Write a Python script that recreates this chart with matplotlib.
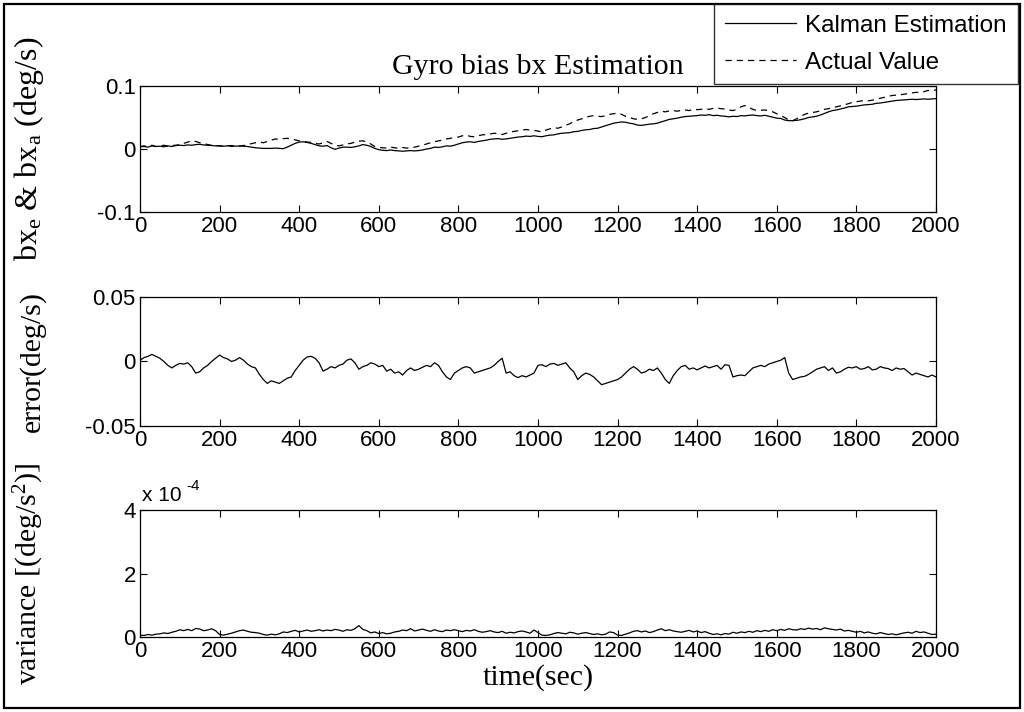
import numpy as np
import matplotlib
matplotlib.use("Agg")
import matplotlib.pyplot as plt
from matplotlib.patches import Rectangle
from matplotlib.ticker import FuncFormatter

plt.rcParams['font.family'] = ['Liberation Sans', 'DejaVu Sans']
plt.rcParams['axes.unicode_minus'] = False
plt.rcParams['mathtext.fontset'] = 'custom'
plt.rcParams['mathtext.rm'] = 'Liberation Serif'
plt.rcParams['mathtext.it'] = 'Liberation Serif:italic'
plt.rcParams['mathtext.sf'] = 'Liberation Sans'

# time axis, one sample every 10 s
t = np.arange(0, 2001, 10)

# Kalman estimate of gyro bias bx (1e-3 deg/s)
bx_est = np.array([
    3.5, 4, 3, 5, 4, 4.5, 3.5, 5, 4, 5.5,
    6, 5.5, 6.5, 6, 7, 7.5, 6.5, 6, 5.5, 5,
    5, 4.5, 5, 5.5, 4.5, 5, 4.5, 4, 3, 2,
    1.5, 1, 1, 1, 1.5, 1, 0.5, 3, 6, 9,
    11, 11.5, 10.5, 9, 7, 5, 4.5, 5.5, 2, -0.5,
    1.5, 3, 3, 2.5, 3.5, 5, 7, 6, 4, 1,
    -1, -2, -2.5, -1.5, -2.5, -3, -3.5, -3, -2.5, -3,
    -2.5, -1.5, 0, 1, 3, 2.5, 3.5, 5, 4.5, 6,
    8, 10, 11, 11.5, 10.5, 12, 13, 14, 15.5, 16,
    16.5, 15.5, 16, 17, 18, 19, 19.5, 20.5, 20, 21,
    20, 19.5, 21, 22, 22.5, 24, 25, 25.5, 26, 27.5,
    28, 29.5, 30.5, 31, 32.5, 33, 35, 37, 39, 41,
    42, 43, 42.5, 41, 40, 38, 37.5, 38.5, 39.5, 40,
    41, 43, 45, 47, 48, 49, 50.5, 51.5, 52, 52.5,
    53, 54, 53.5, 54.5, 53, 53.5, 52.5, 52, 51, 52,
    51.5, 53, 52.5, 53.5, 54, 53, 52.5, 53.5, 52, 50.5,
    49, 48.5, 46, 45, 45, 45.5, 46.5, 48, 50, 51,
    52, 54, 56.5, 59, 61, 62, 63.5, 65, 67, 67.5,
    68, 69, 70, 70.5, 71, 72.5, 73, 74, 75, 76,
    77, 77.5, 78, 78.5, 79, 78.5, 79, 79.5, 79, 79.5,
    80,
]) * 1e-3

# actual gyro bias bx (1e-3 deg/s)
bx_act = np.array([
    4, 5, 3.5, 6, 4, 5, 6, 4.5, 5.5, 6,
    7, 9, 11, 13, 12, 10, 9, 7, 6, 5.5,
    5, 4.5, 5.5, 4, 5, 4.5, 5.5, 7, 8.5, 10,
    11, 10, 12, 14, 16, 15.5, 16.5, 17, 16, 14.5,
    13, 12.5, 11, 10.5, 9, 8, 10, 12, 9, 6,
    5, 6.5, 8, 9, 11, 12.5, 13, 11, 8, 4,
    2.5, 2, 1.5, 3, 2, 1, 2.5, 1.5, 2, 3,
    4.5, 6, 8, 10, 11.5, 13, 14, 16, 17, 18,
    19, 21, 22, 20, 19.5, 21, 22.5, 23, 24, 25,
    24.5, 23, 25, 27, 28, 29, 30, 31, 30, 29.5,
    28.5, 27, 30, 32, 34, 33, 35, 38, 40, 44,
    46, 48, 50, 52, 53, 52, 51.5, 53, 55, 56,
    57, 55, 52, 50, 48, 47, 48, 50, 53, 56,
    58, 60, 59, 60.5, 61, 60, 61.5, 62, 61, 63,
    62.5, 63, 64, 63, 64.5, 65, 64, 63.5, 62, 61,
    63, 67, 69, 66, 63, 61, 61.5, 62, 60.5, 59,
    56, 53, 50, 46, 45, 48, 52, 55, 57, 58,
    59, 61, 63, 64, 65.5, 67, 68.5, 70, 72, 74,
    75, 76, 77, 76.5, 77.5, 79, 80.5, 82, 83.5, 85,
    85.5, 86, 87, 88, 89, 90, 89.5, 91, 93, 92,
    94,
]) * 1e-3

# estimation error (1e-3 deg/s)
err = np.array([
    1, 3, 4, 5.5, 4, 2.5, 0, -3, -5, -3,
    -1.5, -2, -1, -4, -9, -8, -5, -3, 0, 2.5,
    5, 3, 2, 0, 1, 3, 1, -2, -4, -5,
    -10, -14, -17, -15, -16, -17, -15, -13, -12, -7,
    -3, 1, 3.5, 4, 2.5, -1, -7.5, -6, -4, -5,
    -3, -2, 1, 2, -1, -6, -4, -3, -1, -2,
    -4, -3, -7.5, -6, -9, -8, -10.5, -7, -5, -7,
    -6, -4.5, -3, -4, -1, -3, -8, -12, -14, -9,
    -7, -5, -4, -5, -9, -8, -7, -6, -5, -3,
    0, 2.5, -9, -8, -11, -12.5, -11, -12, -10.5, -9,
    -3, -2.5, -4, -2, -1.5, -3, -2, -1, -5, -8,
    -14, -11, -9, -10, -12, -15, -18, -17, -16, -15,
    -14, -12, -9, -6, -4, -6, -9, -8, -6, -7,
    -5, -9, -14, -17, -11, -7, -4, -3, -6, -5,
    -6.5, -5, -3.5, -5, -4, -3, -6, -2.5, -3, -12,
    -11, -10.5, -11, -8, -5, -4, -3, -4, -2, -1,
    0, 1, 3, -9, -14, -13, -12, -11.5, -10, -8,
    -6, -5, -4, -7, -5, -9, -8, -6, -4.5, -5,
    -4, -6, -5.5, -4, -6.5, -6, -4, -5, -5.5, -7,
    -5, -6, -5.5, -8, -10.5, -9, -10, -11, -12, -10.5,
    -12,
]) * 1e-3

# error variance (1e-5 (deg/s)^2)
var = np.array([
    0.6, 0.5, 0.8, 0.6, 0.9, 1.0, 1.3, 1.1, 1.5, 1.8,
    2.3, 2.0, 2.4, 2.0, 2.7, 2.5, 2.0, 2.2, 2.6, 2.0,
    0.8, 0.6, 0.9, 1.2, 1.6, 2.0, 2.2, 1.8, 1.5, 1.4,
    1.2, 0.8, 0.6, 0.9, 0.7, 1.0, 1.6, 1.4, 1.8, 2.1,
    1.6, 1.9, 2.2, 1.8, 2.0, 2.3, 1.9, 2.2, 2.0, 2.4,
    2.2, 1.8, 2.3, 2.1, 2.6, 3.6, 2.4, 2.0, 1.3, 1.6,
    1.1, 1.4, 1.0, 1.2, 1.6, 1.8, 2.2, 2.0, 2.6, 1.9,
    2.2, 2.5, 2.1, 1.8, 2.3, 1.9, 1.7, 2.2, 2.0, 2.3,
    2.0, 1.7, 2.1, 1.9, 2.3, 1.8, 1.5, 1.7, 2.0, 1.6,
    1.4, 1.8, 1.2, 1.5, 1.3, 1.7, 1.9, 1.6, 1.2, 2.2,
    1.4, 0.6, 0.5, 0.7, 1.1, 1.4, 1.2, 1.0, 1.5, 1.3,
    0.9, 1.2, 1.4, 1.1, 0.8, 1.0, 0.7, 0.9, 1.6, 1.4,
    0.6, 0.5, 0.9, 1.3, 1.8, 2.0, 1.6, 1.9, 1.4, 1.7,
    2.2, 2.6, 2.0, 2.3, 1.9, 1.7, 1.5, 1.8, 2.1, 1.6,
    1.9, 1.4, 1.7, 1.2, 0.8, 1.0, 0.7, 1.1, 0.9, 1.5,
    1.2, 1.6, 1.4, 1.8, 1.5, 2.0, 1.7, 2.1, 1.8, 2.3,
    2.0, 2.4, 2.1, 2.6, 2.3, 2.2, 2.6, 2.4, 2.8, 2.5,
    2.7, 2.3, 2.9, 2.6, 2.4, 2.2, 2.5, 1.9, 2.1, 1.8,
    1.5, 1.8, 1.3, 1.6, 1.2, 1.0, 1.4, 1.1, 0.8, 1.0,
    0.7, 1.0, 1.3, 1.5, 1.2, 1.8, 1.4, 1.6, 1.2, 0.8,
    0.9,
]) * 1e-5

xticks = [0, 200, 400, 600, 800, 1000, 1200, 1400, 1600, 1800, 2000]
serif = 'Liberation Serif'
tick_fs = 16
label_fs = 21.5

fig = plt.figure(figsize=(10.24, 7.12), dpi=100)
ax1 = fig.add_axes([0.1367, 0.7022, 0.7773, 0.1770])
ax2 = fig.add_axes([0.1367, 0.4017, 0.7773, 0.1812])
ax3 = fig.add_axes([0.1367, 0.1053, 0.7773, 0.1784])


def style(ax, yticks):
    ax.set_xlim(0, 2000)
    ax.set_ylim(yticks[0], yticks[-1])
    ax.set_xticks(xticks)
    ax.set_yticks(yticks)
    ax.tick_params(direction='in', length=5, width=0.8, top=True, right=True,
                   labelsize=tick_fs, pad=3)
    for s in ax.spines.values():
        s.set_linewidth(0.9)


# bias estimate vs actual
l1, = ax1.plot(t, bx_est, color='black', lw=0.9, label='Kalman Estimation')
l2, = ax1.plot(t, bx_act, color='black', lw=0.9, ls=(0, (5, 4)), label='Actual Value')
style(ax1, [-0.1, 0, 0.1])
ax1.yaxis.set_major_formatter(FuncFormatter(lambda v, p: '%g' % v))
ax1.set_title('Gyro bias bx Estimation', fontfamily=serif, fontsize=label_fs, pad=9)
ax1.set_ylabel(r'bx$_\mathrm{e}$ & bx$_\mathrm{a}$ (deg/s)', fontfamily=serif, fontsize=23)

# error
ax2.plot(t, err, color='black', lw=0.9)
style(ax2, [-0.05, 0, 0.05])
ax2.yaxis.set_major_formatter(FuncFormatter(lambda v, p: '%g' % v))
ax2.set_ylabel('error(deg/s)', fontfamily=serif, fontsize=label_fs)

# variance, labelled in units of 1e-4
ax3.plot(t, var, color='black', lw=0.9)
style(ax3, [0, 2e-4, 4e-4])
ax3.yaxis.set_major_formatter(FuncFormatter(lambda v, p: '%g' % (v / 1e-4)))
ax3.set_ylabel(r'variance [(deg/s$^\mathrm{2}$)]', fontfamily=serif, fontsize=label_fs)
ax3.set_xlabel('time(sec)', fontfamily=serif, fontsize=label_fs, labelpad=1)
ax3.text(0.003, 1.04, 'x 10', transform=ax3.transAxes, ha='left', va='bottom',
         fontsize=15)
ax3.text(0.058, 1.13, '-4', transform=ax3.transAxes, ha='left', va='bottom',
         fontsize=11)

for ax in (ax1, ax2, ax3):
    ax.yaxis.set_label_coords(-0.118, 0.5)

leg = fig.legend(handles=[l1, l2], loc='upper right', bbox_to_anchor=(1018 / 1024, 1 - 4 / 712),
                 fontsize=17.5, frameon=True, fancybox=False, borderaxespad=0,
                 handlelength=2.9, handletextpad=0.4, labelspacing=0.6, borderpad=0.45)
leg.get_frame().set_edgecolor('black')
leg.get_frame().set_linewidth(1.0)

# outer frame around the whole figure
fig.patches.append(Rectangle((4 / 1024, 4 / 712), 1016 / 1024, 704 / 712, transform=fig.transFigure,
                             fill=False, edgecolor='black', linewidth=1.6))

fig.savefig('out.png', dpi=100)
